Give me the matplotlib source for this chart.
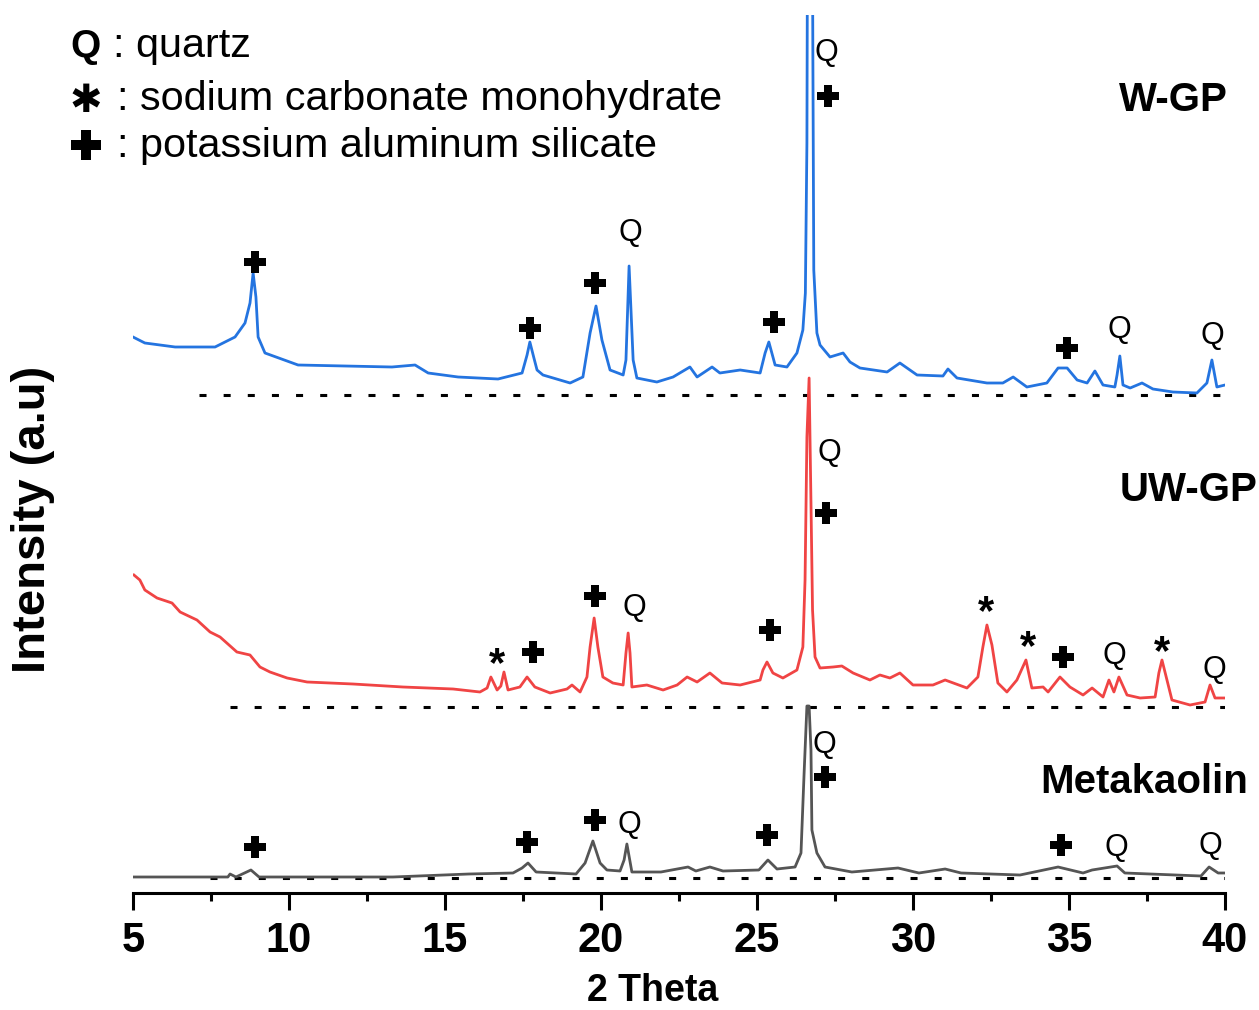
import matplotlib
matplotlib.use("Agg")
import matplotlib.pyplot as plt
from matplotlib.transforms import offset_copy

plt.rcParams['font.family'] = ['Liberation Sans', 'DejaVu Sans']

# ---------------- data (2 theta in degrees, intensity in a.u. above each baseline) -------------
wgp_x = [5.00, 5.38, 6.35, 7.63, 8.27, 8.59, 8.75, 8.85, 8.94, 9.01, 9.23, 10.29, 13.30, 14.04,
         14.46, 15.42, 16.70, 17.47, 17.63, 17.72, 17.85, 17.95, 18.14, 19.01, 19.42, 19.65,
         19.84, 20.03, 20.29, 20.71, 20.80, 20.90, 21.03, 21.15, 21.79, 22.31, 22.85, 23.08,
         23.56, 23.81, 24.46, 25.10, 25.26, 25.38, 25.58, 25.96, 26.28, 26.47, 26.55, 26.60,
         26.63, 26.68, 26.76, 26.79, 26.82, 26.92, 27.02, 27.34, 27.76, 27.98, 28.30, 29.17,
         29.58, 30.13, 30.96, 31.12, 31.41, 32.37, 32.88, 33.21, 33.65, 34.29, 34.65, 34.94,
         35.26, 35.58, 35.83, 36.09, 36.47, 36.54, 36.63, 36.73, 36.96, 37.34, 37.69, 38.33,
         39.10, 39.42, 39.58, 39.74, 40.00]
wgp_y = [58, 52, 48, 48, 58, 72, 92, 122, 98, 58, 42, 30, 28, 30,
         22, 18, 16, 22, 40, 53, 37, 25, 20, 12, 18, 62,
         89, 55, 25, 20, 35, 129, 35, 17, 13, 18, 28, 18,
         28, 22, 25, 22, 42, 53, 30, 28, 42, 65, 102, 252,
         600, 640, 600, 345, 125, 62, 50, 38, 42, 33, 27, 23,
         32, 20, 19, 26, 17, 12, 12, 18, 8, 12, 27, 27,
         15, 12, 24, 10, 8, 20, 39, 10, 7, 12, 6, 3,
         2, 12, 35, 8, 10]

uwgp_x = [5.03, 5.22, 5.38, 5.77, 6.25, 6.51, 7.05, 7.47, 7.79, 8.33, 8.75, 9.07, 9.39, 9.94,
          10.58, 12.05, 13.65, 15.26, 16.12, 16.35, 16.47, 16.67, 16.79, 16.89, 17.02, 17.40,
          17.63, 17.88, 18.37, 18.91, 19.07, 19.33, 19.55, 19.65, 19.78, 19.90, 20.06, 20.38,
          20.71, 20.80, 20.87, 20.93, 20.99, 21.47, 21.99, 22.44, 22.76, 23.08, 23.49, 23.88,
          24.46, 25.10, 25.19, 25.32, 25.51, 25.83, 26.28, 26.47, 26.54, 26.60, 26.67, 26.73,
          26.78, 26.86, 27.02, 27.44, 27.72, 28.08, 28.62, 28.94, 29.26, 29.58, 30.00, 30.64,
          31.03, 31.73, 32.08, 32.24, 32.37, 32.53, 32.72, 33.01, 33.33, 33.62, 33.81, 34.17,
          34.33, 34.71, 35.03, 35.45, 35.74, 36.09, 36.28, 36.44, 36.60, 36.86, 37.28, 37.76,
          37.88, 37.98, 38.14, 38.30, 38.88, 39.36, 39.52, 39.68, 40.00]
uwgp_y = [132, 127, 117, 109, 104, 95, 87, 75, 70, 55, 52, 40, 35, 29,
          25, 23, 20, 18, 15, 19, 30, 17, 21, 35, 17, 20,
          30, 20, 14, 18, 22, 15, 30, 60, 89, 60, 30, 24,
          22, 54, 74, 54, 20, 22, 17, 22, 30, 25, 34, 24,
          22, 27, 37, 45, 34, 29, 37, 60, 127, 270, 329, 204,
          97, 50, 39, 40, 41, 34, 27, 32, 29, 34, 22, 22,
          27, 19, 30, 60, 82, 62, 24, 15, 27, 47, 19, 20,
          15, 30, 20, 12, 19, 10, 27, 15, 30, 12, 9, 10,
          34, 47, 27, 7, 2, 5, 22, 9, 9]

mk_x = [5.03, 8.04, 8.11, 8.30, 8.78, 9.04, 13.33, 15.77, 17.18, 17.47, 17.66, 17.92, 19.20,
        19.49, 19.74, 19.97, 20.19, 20.61, 20.74, 20.83, 20.99, 21.92, 22.79, 23.04, 23.49,
        23.91, 25.06, 25.35, 25.64, 26.22, 26.41, 26.51, 26.60, 26.67, 26.73, 26.76, 26.92,
        27.18, 28.04, 29.52, 30.19, 31.03, 31.54, 33.43, 34.65, 35.45, 35.74, 36.54, 36.79,
        39.23, 39.49, 39.78, 40.00]
mk_y = [1, 1, 4, 1, 8, 1, 1, 4, 5, 10, 15, 6, 4,
        15, 37, 15, 8, 7, 18, 34, 6, 6, 11, 7, 11,
        7, 8, 18, 9, 11, 25, 105, 172, 172, 128, 48, 25,
        11, 6, 10, 5, 9, 5, 3, 11, 5, 8, 12, 5,
        2, 11, 5, 5]

names = ['W-GP', 'UW-GP', 'Metakaolin']
offsets = [498, 186, 15]
baseline_start = [7.10, 8.11, 7.47]
colors = ['#2474E0', '#F04444', '#555555']

# phase markers: (symbol, 2theta, height above axis)
wgp_marks = [('+', 8.91, 631), ('+', 17.72, 565), ('+', 19.81, 610), ('Q', 20.93, 663),
             ('+', 25.54, 571), ('Q', 27.21, 843), ('+', 27.28, 797), ('+', 34.94, 545),
             ('Q', 36.63, 566), ('Q', 39.58, 560)]
uwgp_marks = [('*', 16.67, 241), ('+', 17.82, 241), ('+', 19.81, 297), ('Q', 21.06, 288),
              ('+', 25.42, 263), ('Q', 27.31, 443), ('+', 27.21, 380), ('*', 32.34, 293),
              ('*', 33.69, 258), ('+', 34.81, 236), ('Q', 36.44, 240), ('*', 37.98, 253),
              ('Q', 39.65, 226)]
mk_marks = [('+', 8.91, 46), ('+', 17.63, 51), ('+', 19.81, 73), ('Q', 20.90, 71),
            ('+', 25.32, 58), ('Q', 27.15, 151), ('+', 27.18, 116), ('+', 34.74, 48),
            ('Q', 36.51, 48), ('Q', 39.52, 50)]

legend_items = [('Q', 'quartz'), ('*', 'sodium carbonate monohydrate'),
                ('+', 'potassium aluminum silicate')]

xticks = [5, 10, 15, 20, 25, 30, 35, 40]

# ---------------- figure ----------------
W, H = 1259, 1010
fig = plt.figure(figsize=(W / 100, H / 100), dpi=100)
ax = fig.add_axes([133 / W, 117 / H, 1092 / W, 878 / H])
ax.set_xlim(5, 40)
ax.set_ylim(0, 878)

series = [(wgp_x, wgp_y), (uwgp_x, uwgp_y), (mk_x, mk_y)]
for (xs, ys), off, xs0 in zip(series, offsets, baseline_start):
    ax.plot([xs0, 40], [off, off], color='black', lw=2.2,
            linestyle=(0, (2.3, 5.6)), solid_capstyle='butt', dash_capstyle='butt', zorder=1)
for (xs, ys), off, c in zip(series, offsets, colors):
    ax.plot(xs, [v + off for v in ys], color=c, lw=2.0, zorder=2)

def draw_marks(marks):
    for sym, x, y in marks:
        if sym == '+':
            ax.plot([x], [y], marker='P', ms=16, color='black', mew=0, zorder=3, clip_on=False)
        elif sym == 'Q':
            tr = offset_copy(ax.transData, fig=fig, y=-0.36 * 22, units='points')
            ax.text(x, y, 'Q', fontsize=22, ha='center', va='baseline', transform=tr)
        else:
            tr = offset_copy(ax.transData, fig=fig, y=-0.58 * 30, units='points')
            ax.text(x, y, '*', fontsize=30, fontweight='bold', ha='center', va='baseline',
                    transform=tr)

for m in (wgp_marks, uwgp_marks, mk_marks):
    draw_marks(m)

# sample labels
label_pos = [(1228, 100), (1257, 490), (1248, 782)]
for name, (px, py) in zip(names, label_pos):
    fig.text(px / W, 1 - py / H, name, fontsize=29, fontweight='bold', ha='right', va='center')

# legend (key) at top-left
key_rows = [(57, 113), (110, 117), (157, 117)]
for (sym, desc), (base, tx) in zip(legend_items, key_rows):
    if sym == 'Q':
        fig.text(85 / W, 1 - base / H, 'Q', fontsize=28, fontweight='bold', ha='center',
                 va='baseline')
    elif sym == '*':
        fig.text(86 / W, 1 - 97 / H, '\u2731', fontsize=28, family='DejaVu Sans',
                 ha='center', va='center_baseline')
    else:
        ax.plot([86 / W], [1 - 145 / H], marker='P', ms=21, color='black', mew=0,
                transform=fig.transFigure, clip_on=False)
    fig.text(tx / W, 1 - base / H, ': ' + desc, fontsize=29.8, ha='left', va='baseline')

# axes styling
for s in ('top', 'left', 'right'):
    ax.spines[s].set_visible(False)
ax.spines['bottom'].set_linewidth(2.2)
ax.set_yticks([])
ax.set_xticks(xticks)
ax.set_xticks([x + 2.5 for x in xticks[:-1]], minor=True)
ax.tick_params(axis='x', which='major', direction='out', length=12, width=2.2, pad=8,
               labelsize=30)
ax.tick_params(axis='x', which='minor', direction='out', length=6, width=2.2)
for lab in ax.get_xticklabels():
    lab.set_fontweight('bold')

ax.set_xlabel('2 Theta', fontsize=27, fontweight='bold')
ax.xaxis.label.set_va('center')
ax.xaxis.set_label_coords(0.476, -0.1116)
ax.set_ylabel('Intensity (a.u)', fontsize=34, fontweight='bold')
ax.yaxis.label.set_va('center')
ax.yaxis.set_label_coords(-0.0916, 0.425)

fig.savefig('out.png', dpi=100)
